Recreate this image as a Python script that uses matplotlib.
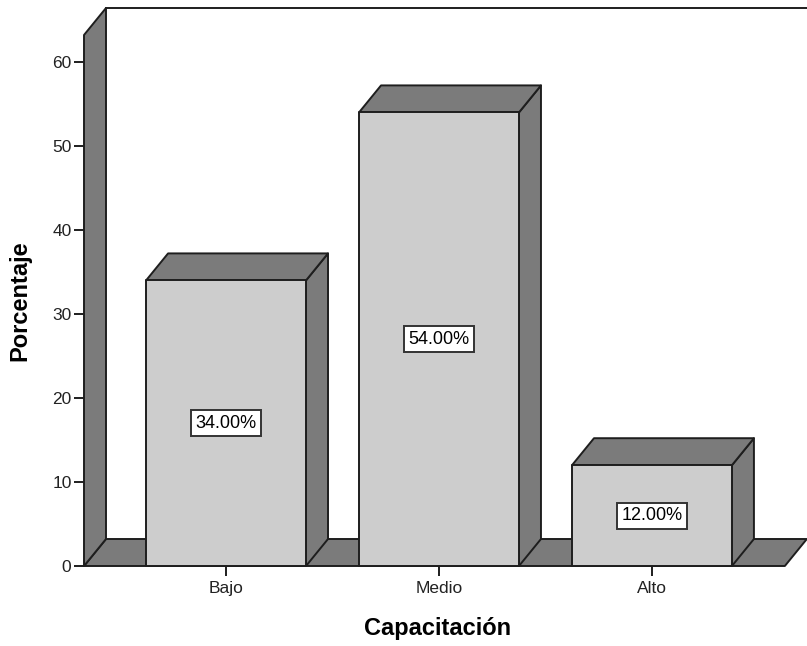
import matplotlib
matplotlib.use('Agg')
import matplotlib.pyplot as plt
from matplotlib.patches import Polygon

plt.rcParams['font.family'] = ['Liberation Sans', 'DejaVu Sans']

categorias = ['Bajo', 'Medio', 'Alto']
porcentajes = [34.0, 54.0, 12.0]
etiquetas = ['34.00%', '54.00%', '12.00%']
yticks = [0, 10, 20, 30, 40, 50, 60]

oscuro = '#7b7b7b'
claro = '#cdcdcd'
borde = '#1e1e1e'

fig = plt.figure(figsize=(8.07, 6.46), dpi=100)
# axes covers the front plane from the y axis to the right edge
ax = fig.add_axes([84/807, 1 - 566/646, 723/807, 558/646])
xmin, xmax = -0.667, 2.728
ymin, ymax = 0, 66.43
ax.set_xlim(xmin, xmax)
ax.set_ylim(ymin, ymax)

# depth offset of the 3d look, in data units
DX = 22 / 213.0
DY = 27 / 8.4
ancho = 0.751
piso_der = 2.624
pared_top = ymax - DY

def cara(pts, color, z=2):
    ax.add_patch(Polygon(pts, closed=True, facecolor=color, edgecolor=borde,
                         linewidth=1.4, joinstyle='round', zorder=z, clip_on=False))

# floor and left wall
cara([(xmin, 0), (piso_der, 0), (piso_der + DX, DY), (xmin + DX, DY)], oscuro, 1)
cara([(xmin, 0), (xmin + DX, DY), (xmin + DX, ymax), (xmin, pared_top)], oscuro, 1)
ax.plot([xmin + DX, xmax], [ymax, ymax], color=borde, lw=1.4, clip_on=False, zorder=1)

for i, (v, et) in enumerate(zip(porcentajes, etiquetas)):
    x0 = i - ancho / 2
    x1 = i + ancho / 2
    cara([(x1, 0), (x1 + DX, DY), (x1 + DX, v + DY), (x1, v)], oscuro, 3)
    cara([(x0, v), (x1, v), (x1 + DX, v + DY), (x0 + DX, v + DY)], oscuro, 3)
    cara([(x0, 0), (x1, 0), (x1, v), (x0, v)], claro, 4)
    ax.text(i, v / 2, et, ha='center', va='center', fontsize=13, zorder=5,
            bbox=dict(boxstyle='square,pad=0.25', facecolor='white',
                      edgecolor='#333333', linewidth=1.4))

for s in ax.spines.values():
    s.set_visible(False)
ax.set_yticks(yticks)
ax.set_xticks(range(len(categorias)))
ax.set_xticklabels(categorias)
ax.tick_params(axis='both', length=7, width=1.4, color=borde, labelsize=12.5,
               labelcolor='#222222', pad=2)
ax.tick_params(axis='x', pad=4)

fig.text(20/807, 1 - 301/646, 'Porcentaje', rotation=90, ha='center', va='center',
         fontsize=17, fontweight='bold')
fig.text(438/807, 1 - 628/646, 'Capacitación', ha='center', va='center',
         fontsize=17, fontweight='bold')

fig.savefig('out.png', dpi=100)
